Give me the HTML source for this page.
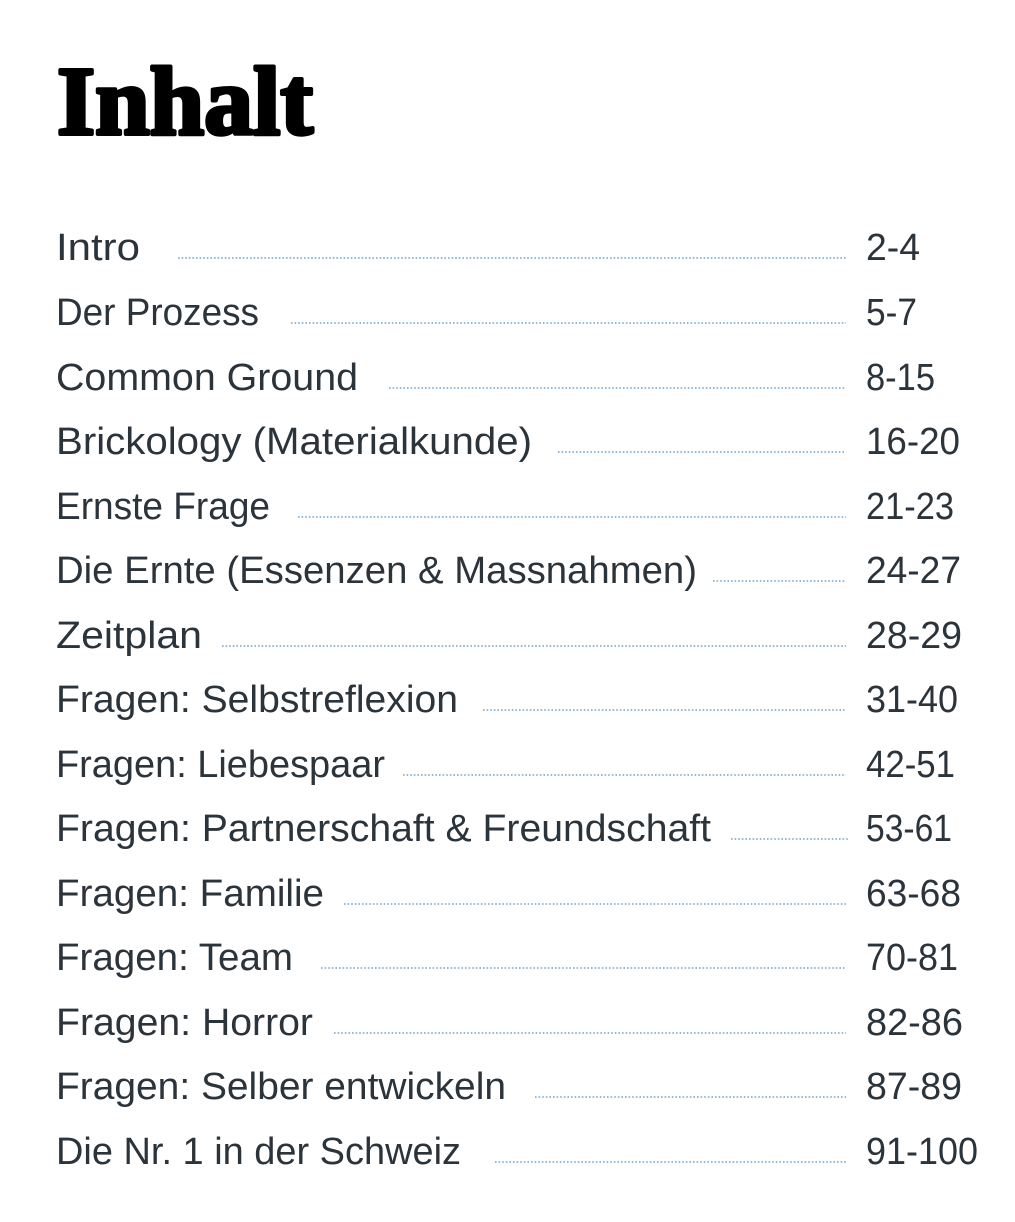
<!DOCTYPE html>
<html><head><meta charset="utf-8"><style>
html,body{margin:0;padding:0;background:#fff;}
svg{display:block}
</style></head><body>
<svg width="1015" height="1222" xmlns="http://www.w3.org/2000/svg">
<text x="57" y="134" font-family="Liberation Serif, serif" font-weight="bold" font-size="98" fill="#000" stroke="#000" stroke-width="4" stroke-linejoin="round" textLength="256" lengthAdjust="spacingAndGlyphs">Inhalt</text>
<g font-family="Liberation Sans, sans-serif" font-size="38" fill="#2b333b">
<text x="56" y="260" textLength="84" lengthAdjust="spacingAndGlyphs">Intro</text>
<text x="56" y="325" textLength="203" lengthAdjust="spacingAndGlyphs">Der Prozess</text>
<text x="56" y="390" textLength="302" lengthAdjust="spacingAndGlyphs">Common Ground</text>
<text x="56" y="454" textLength="476" lengthAdjust="spacingAndGlyphs">Brickology (Materialkunde)</text>
<text x="56" y="519" textLength="214" lengthAdjust="spacingAndGlyphs">Ernste Frage</text>
<text x="56" y="583" textLength="641" lengthAdjust="spacingAndGlyphs">Die Ernte (Essenzen &amp; Massnahmen)</text>
<text x="56" y="648" textLength="146" lengthAdjust="spacingAndGlyphs">Zeitplan</text>
<text x="56" y="712" textLength="402" lengthAdjust="spacingAndGlyphs">Fragen: Selbstreflexion</text>
<text x="56" y="777" textLength="329" lengthAdjust="spacingAndGlyphs">Fragen: Liebespaar</text>
<text x="56" y="841" textLength="655" lengthAdjust="spacingAndGlyphs">Fragen: Partnerschaft &amp; Freundschaft</text>
<text x="56" y="906" textLength="268" lengthAdjust="spacingAndGlyphs">Fragen: Familie</text>
<text x="56" y="970" textLength="237" lengthAdjust="spacingAndGlyphs">Fragen: Team</text>
<text x="56" y="1035" textLength="257" lengthAdjust="spacingAndGlyphs">Fragen: Horror</text>
<text x="56" y="1099" textLength="450" lengthAdjust="spacingAndGlyphs">Fragen: Selber entwickeln</text>
<text x="56" y="1164" textLength="405" lengthAdjust="spacingAndGlyphs">Die Nr. 1 in der Schweiz</text>
<text x="866" y="260" textLength="54" lengthAdjust="spacingAndGlyphs">2-4</text>
<text x="866" y="325" textLength="51" lengthAdjust="spacingAndGlyphs">5-7</text>
<text x="866" y="390" textLength="69" lengthAdjust="spacingAndGlyphs">8-15</text>
<text x="866" y="454" textLength="94" lengthAdjust="spacingAndGlyphs">16-20</text>
<text x="866" y="519" textLength="88" lengthAdjust="spacingAndGlyphs">21-23</text>
<text x="866" y="583" textLength="95" lengthAdjust="spacingAndGlyphs">24-27</text>
<text x="866" y="648" textLength="96" lengthAdjust="spacingAndGlyphs">28-29</text>
<text x="866" y="712" textLength="92" lengthAdjust="spacingAndGlyphs">31-40</text>
<text x="866" y="777" textLength="89" lengthAdjust="spacingAndGlyphs">42-51</text>
<text x="866" y="841" textLength="86" lengthAdjust="spacingAndGlyphs">53-61</text>
<text x="866" y="906" textLength="95" lengthAdjust="spacingAndGlyphs">63-68</text>
<text x="866" y="970" textLength="92" lengthAdjust="spacingAndGlyphs">70-81</text>
<text x="866" y="1035" textLength="97" lengthAdjust="spacingAndGlyphs">82-86</text>
<text x="866" y="1099" textLength="96" lengthAdjust="spacingAndGlyphs">87-89</text>
<text x="866" y="1164" textLength="112" lengthAdjust="spacingAndGlyphs">91-100</text>
</g>
<g stroke="#6fa6d0" stroke-width="1.6" stroke-dasharray="1.6 2">
<line x1="178" y1="258" x2="846" y2="258"/>
<line x1="291" y1="323" x2="846" y2="323"/>
<line x1="389" y1="388" x2="846" y2="388"/>
<line x1="558" y1="452" x2="846" y2="452"/>
<line x1="298" y1="517" x2="846" y2="517"/>
<line x1="713" y1="581" x2="846" y2="581"/>
<line x1="222" y1="646" x2="846" y2="646"/>
<line x1="483" y1="710" x2="846" y2="710"/>
<line x1="403" y1="775" x2="846" y2="775"/>
<line x1="731" y1="839" x2="849" y2="839"/>
<line x1="344" y1="904" x2="846" y2="904"/>
<line x1="321" y1="968" x2="846" y2="968"/>
<line x1="334" y1="1033" x2="846" y2="1033"/>
<line x1="535" y1="1097" x2="846" y2="1097"/>
<line x1="495" y1="1162" x2="846" y2="1162"/>
</g>
</svg>
</body></html>
